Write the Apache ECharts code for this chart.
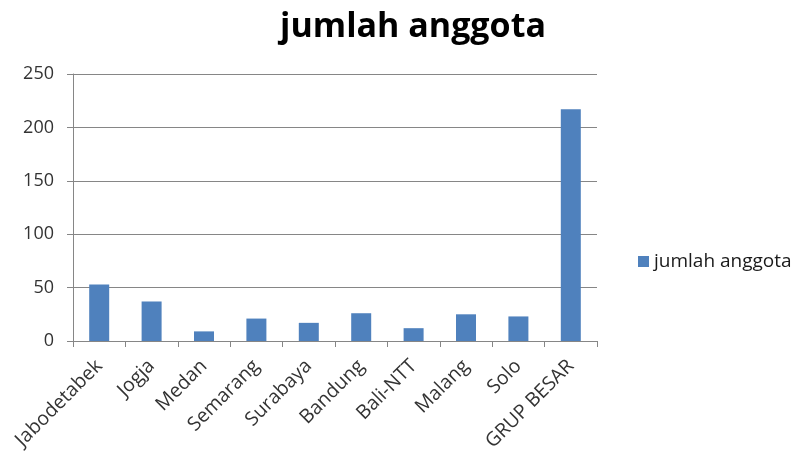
<!DOCTYPE html>
<html><head><meta charset="utf-8">
<script src="https://cdn.jsdelivr.net/npm/echarts@6/dist/echarts.min.js"></script>
<style>html,body{margin:0;padding:0;background:#fff}#c{width:801px;height:455px}</style>
</head><body><div id="c"></div>
<script>
const categories = ["Jabodetabek","Jogja","Medan","Semarang","Surabaya","Bandung","Bali-NTT","Malang","Solo","GRUP BESAR"];
const values = [53, 37, 9, 21, 17, 26, 12, 25, 23, 217];
const seriesName = "jumlah anggota";
const yTicks = {min: 0, max: 250, interval: 50};

const chart = echarts.init(document.getElementById('c'), null, {renderer: 'canvas'});
const font = '"Open Sans", "Liberation Sans", sans-serif';
chart.setOption({
  animation: false,
  backgroundColor: '#fff',
  title: {
    text: seriesName, left: 408, top: 5, textAlign: 'center',
    textStyle: {fontFamily: font, fontSize: 34, fontWeight: 'bold', color: '#000'}
  },
  legend: {
    data: [seriesName], left: 633, top: 247, orient: 'vertical',
    icon: 'rect', itemWidth: 11, itemHeight: 11, itemGap: 6,
    textStyle: {fontFamily: font, fontSize: 19, color: '#1a1a1a'}
  },
  grid: {left: 73, right: 204, top: 74, bottom: 114, containLabel: false},
  xAxis: {
    type: 'category', data: categories,
    axisLine: {lineStyle: {color: '#868686', width: 1}},
    axisTick: {show: true, alignWithLabel: false, length: 6, lineStyle: {color: '#868686'}, inside: false},
    axisLabel: {rotate: 45, interval: 0, margin: 22, fontFamily: font, fontSize: 19.5, color: '#333'}
  },
  yAxis: {
    type: 'value', min: yTicks.min, max: yTicks.max, interval: yTicks.interval,
    axisLine: {show: true, lineStyle: {color: '#868686'}},
    axisTick: {show: true, length: 6, lineStyle: {color: '#868686'}},
    splitLine: {lineStyle: {color: '#868686', width: 1}},
    axisLabel: {margin: 19, fontFamily: font, fontSize: 18, color: '#333'}
  },
  series: [{
    name: seriesName, type: 'bar', data: values, barWidth: 20,
    itemStyle: {color: '#4F81BD'}
  }]
});
</script></body></html>
